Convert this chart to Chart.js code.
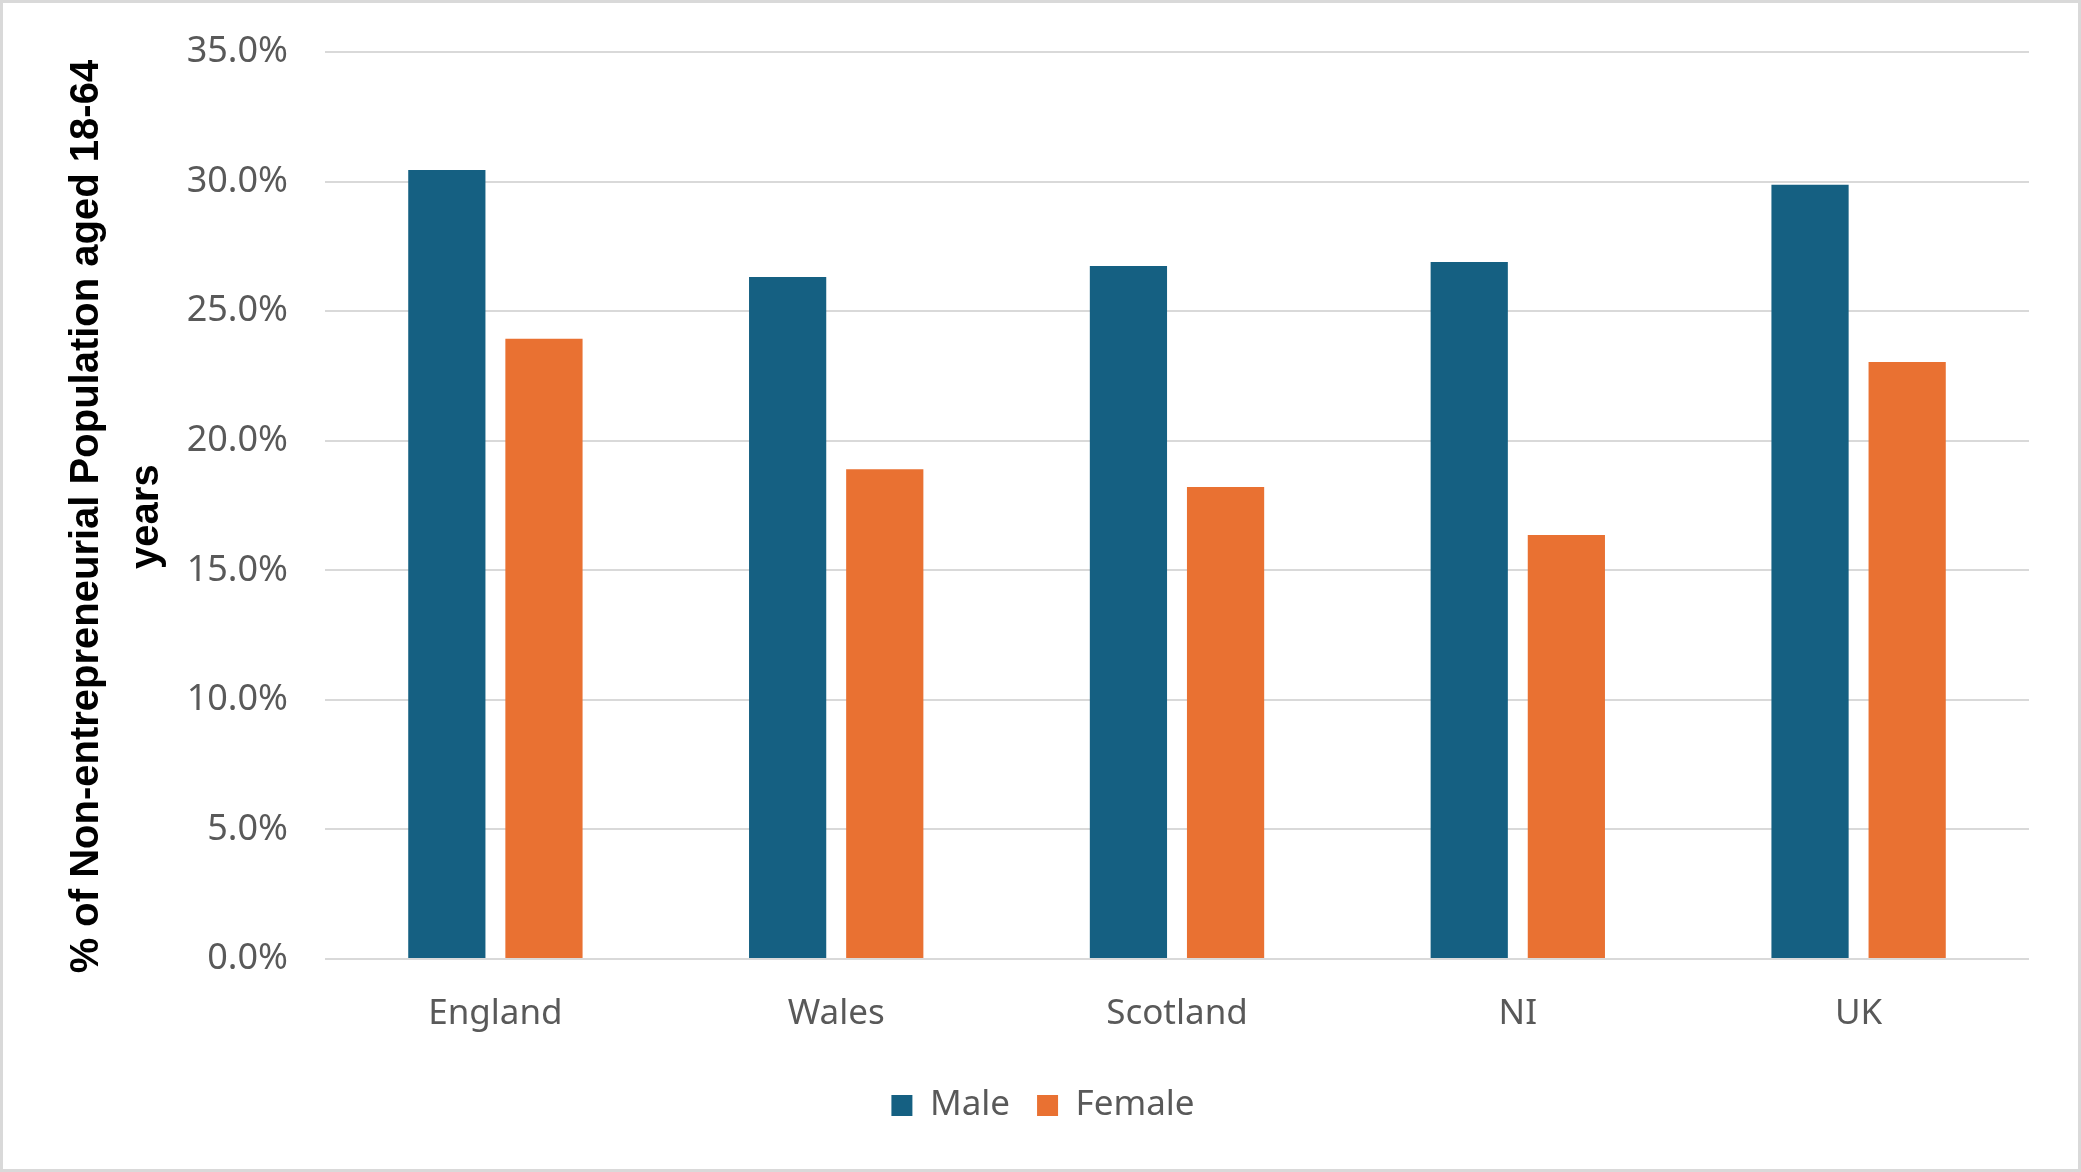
<!DOCTYPE html>
<html>
<head>
<meta charset="utf-8">
<script src="https://cdn.jsdelivr.net/npm/chart.js@4.4.1/dist/chart.umd.min.js"></script>
<style>
  html, body { margin: 0; padding: 0; background: #fff; }
  .frame {
    width: 2081px; height: 1172px; box-sizing: border-box;
    border: 3px solid #d9d9d9; position: relative;
  }
  canvas { display: block; }
</style>
</head>
<body>
<div class="frame"><canvas id="chart"></canvas></div>
<script>
const regions = ['England', 'Wales', 'Scotland', 'NI', 'UK'];
const maleValues = [30.45, 26.32, 26.74, 26.9, 29.88];
const femaleValues = [23.93, 18.9, 18.21, 16.36, 23.04];
// trailing spaces nudge the rotated title slightly down, like the original
const yTitle = ['% of Non-entrepreneurial Population aged 18-64  ', 'years  '];

const textGrey = '#595959';
const gridGrey = '#d9d9d9';

const ctx = document.getElementById('chart').getContext('2d');
new Chart(ctx, {
    type: 'bar',
    data: {
        labels: regions,
        datasets: [
            { label: 'Male', data: maleValues, backgroundColor: '#156082' },
            { label: 'Female', data: femaleValues, backgroundColor: '#e97132' }
        ]
    },
    options: {
        responsive: true,
        maintainAspectRatio: false,
        animation: false,
        devicePixelRatio: 1,
        datasets: { bar: { categoryPercentage: 0.57, barPercentage: 0.795 } },
        layout: { padding: { top: 49, right: 49, bottom: 36, left: 54 } },
        scales: {
            x: {
                grid: { display: false },
                border: { display: false },
                ticks: { color: textGrey, font: { family: 'Noto Sans', size: 35 }, padding: 26 }
            },
            y: {
                min: 0,
                max: 35,
                afterFit: scale => {
                    scale.width = 268;
                    scale.paddingTop = 0;
                    scale.paddingBottom = 0;
                },
                ticks: {
                    stepSize: 5,
                    color: textGrey,
                    font: { family: 'Noto Sans', size: 36 },
                    padding: 37,
                    callback: v => v.toFixed(1) + '%'
                },
                grid: { color: gridGrey, lineWidth: 2, drawTicks: false },
                border: { display: false },
                title: {
                    display: true,
                    text: yTitle,
                    color: '#000',
                    font: { family: 'Liberation Sans', size: 40, weight: 'bold', lineHeight: 1.5 },
                    padding: { top: 0, bottom: 0 }
                }
            }
        },
        plugins: {
            legend: {
                position: 'bottom',
                labels: {
                    color: textGrey,
                    font: { family: 'Noto Sans', size: 35 },
                    boxWidth: 21,
                    boxHeight: 21,
                    padding: 27
                }
            },
            tooltip: { enabled: false }
        }
    }
});
</script>
</body>
</html>
